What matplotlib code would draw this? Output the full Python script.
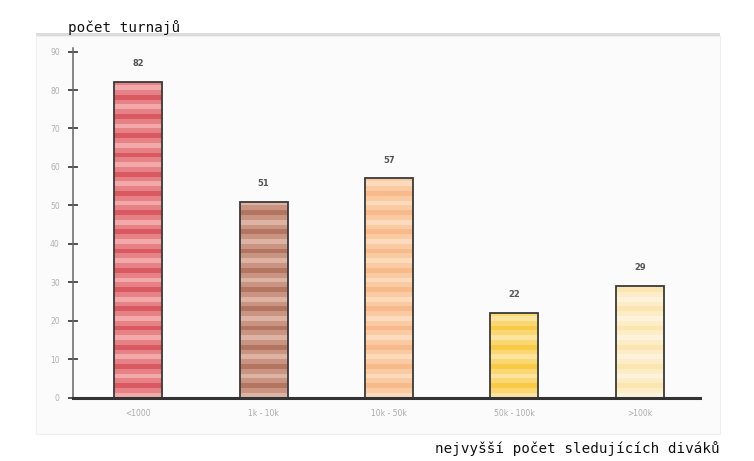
import matplotlib
matplotlib.use("Agg")
import matplotlib.pyplot as plt
from matplotlib.patches import Rectangle
from matplotlib.colors import to_rgb

categories = ["<1000", "1k - 10k", "10k - 50k", "50k - 100k", ">100k"]
counts = [82, 51, 57, 22, 29]
y_ticks = [0, 10, 20, 30, 40, 50, 60, 70, 80, 90]
stripe_light = ["#f3a9aa", "#ddb3a4", "#fcdabc", "#fde49e", "#fdf3dc"]
stripe_dark = ["#da5860", "#b47560", "#f8ba8a", "#f9ca46", "#fbe6b2"]
y_title = "počet turnajů"
x_title = "nejvyšší počet sledujících diváků"


def blend(c1, c2, t=0.5):
    a, b = to_rgb(c1), to_rgb(c2)
    return tuple(x + (y - x) * t for x, y in zip(a, b))


W, H = 754, 461
fig = plt.figure(figsize=(W / 100, H / 100), dpi=100)
fig.patch.set_facecolor("white")

# light panel behind the chart
fig.patches.append(Rectangle((36 / W, (H - 434) / H), (720 - 36) / W, (434 - 36) / H,
                             transform=fig.transFigure, facecolor="#fbfbfb",
                             edgecolor="#eeeeee", linewidth=0.8, zorder=-2))
fig.patches.append(Rectangle((36 / W, (H - 36) / H), (720 - 36) / W, 3 / H,
                             transform=fig.transFigure, facecolor="#dcdcdc",
                             edgecolor="none", zorder=-1))

ax = fig.add_axes([73 / W, (H - 397.7) / H, (700 - 73) / W, (397.7 - 48.5) / H])
ax.patch.set_alpha(0)

bar_w = 0.383
step = 1.25
for i, v in enumerate(counts):
    mid = blend(stripe_light[i], stripe_dark[i])
    cycle = [stripe_light[i], mid, stripe_dark[i], mid]
    b = 0.0
    k = 0
    while b < v:
        h = min(step, v - b)
        ax.bar(i, h, bottom=b, width=bar_w, color=cycle[k % 4], linewidth=0, zorder=2)
        b += step
        k += 1
    ax.bar(i, v, width=bar_w, fill=False, edgecolor="#3a3a3a", linewidth=1.3, zorder=3)
    ax.annotate(str(v), (i, v), xytext=(0, 10), textcoords="offset points",
                ha="center", va="bottom", fontsize=6, fontweight="bold",
                color="#555555", zorder=4)

ax.set_xlim(-0.52, 4.48)
ax.set_ylim(0, 90.8)
ax.set_yticks(y_ticks)
ax.set_yticklabels([str(t) for t in y_ticks])
ax.set_xticks(range(len(categories)))
ax.set_xticklabels(categories)

for s in ("top", "right"):
    ax.spines[s].set_visible(False)
ax.spines["left"].set_color("#666666")
ax.spines["left"].set_linewidth(1.1)
ax.spines["bottom"].set_color("#333333")
ax.spines["bottom"].set_linewidth(2.2)
ax.spines["bottom"].set_zorder(5)

ax.tick_params(axis="y", direction="inout", length=7, width=1.3, color="#444444",
               labelsize=5.5, labelcolor="#b0b0b0", pad=6)
ax.tick_params(axis="x", length=0, labelsize=5.5, labelcolor="#aaaaaa", pad=8)

fig.text(68 / W, (H - 28) / H, y_title, family="DejaVu Sans Mono", fontsize=10.3,
         color="#111111", ha="left", va="center")
fig.text(720 / W, (H - 449) / H, x_title, family="DejaVu Sans Mono", fontsize=10.3,
         color="#111111", ha="right", va="center")

fig.savefig("out.png", dpi=100)
